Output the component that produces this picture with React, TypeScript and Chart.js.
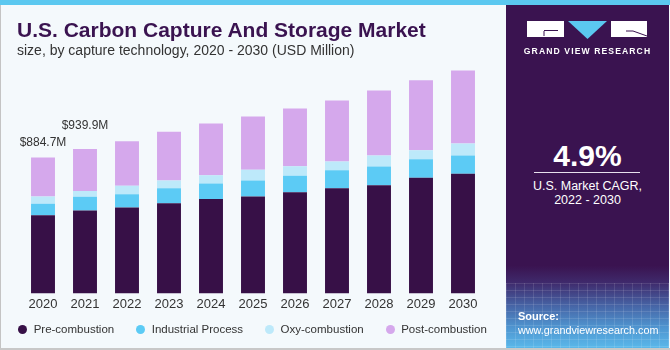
import React, { useEffect, useRef } from "react";
import { Chart, registerables } from "chart.js";

Chart.register(...registerables);

const years = ["2020", "2021", "2022", "2023", "2024", "2025", "2026", "2027", "2028", "2029", "2030"];
const preCombustion = [509, 540, 559, 587, 615, 630, 659, 685, 704, 752, 778];
const industrialProcess = [74, 89, 87, 98, 100, 104, 107, 117, 122, 121, 119];
const oxyCombustion = [48, 37, 54, 50, 54, 70, 61, 57, 72, 59, 78];
const postCombustion = [254, 274, 291, 317, 337, 348, 376, 396, 422, 456, 476];
const totalLabels = ["$884.7M", "$939.9M"];
const labelOffsets = [15, 23];

const seriesNames = ["Pre-combustion", "Industrial Process", "Oxy-combustion", "Post-combustion"];
const seriesColors = ["#371047", "#5ccbf5", "#bde9fa", "#d5a8ec"];
const seriesData = [preCombustion, industrialProcess, oxyCombustion, postCombustion];

const FONT = "'Liberation Sans', Arial, sans-serif";

const totalLabelPlugin = {
  id: "totalLabels",
  afterDatasetsDraw(chart: any) {
    const ctx = chart.ctx;
    const last = chart.getDatasetMeta(chart.data.datasets.length - 1);
    ctx.save();
    ctx.font = `12px ${FONT}`;
    ctx.fillStyle = "#333333";
    ctx.textAlign = "center";
    ctx.textBaseline = "middle";
    totalLabels.forEach((t, i) => {
      const el = last.data[i];
      ctx.fillText(t, el.x, el.y - labelOffsets[i]);
    });
    ctx.restore();
  },
};

export default function App() {
  const ref = useRef<HTMLCanvasElement | null>(null);

  useEffect(() => {
    if (!ref.current) return;
    const chart = new Chart(ref.current, {
      type: "bar",
      data: {
        labels: years,
        datasets: seriesNames.map((name, i) => ({
          label: name,
          data: seriesData[i],
          backgroundColor: seriesColors[i],
          borderWidth: 0,
          barPercentage: 0.57,
          categoryPercentage: 1,
        })),
      },
      options: {
        animation: false,
        responsive: false,
        maintainAspectRatio: false,
        layout: { padding: { top: 60, left: 22, right: 21, bottom: 35 } },
        plugins: {
          legend: { display: false },
          tooltip: { enabled: false },
          title: { display: false },
        },
        scales: {
          x: {
            stacked: true,
            grid: { display: false, drawTicks: false },
            border: { display: false },
            ticks: { color: "#333333", font: { family: FONT, size: 13 }, padding: 3 },
          },
          y: { stacked: true, display: false, min: 0, max: 1519 },
        },
      },
      plugins: [totalLabelPlugin],
    });
    return () => chart.destroy();
  }, []);

  return (
    <div
      style={{
        position: "fixed",
        left: 0,
        top: 0,
        width: 670,
        height: 350,
        background: "#f4f9fc",
        overflow: "hidden",
        fontFamily: FONT,
      }}
    >
      <canvas ref={ref} width={505} height={350} style={{ position: "absolute", left: 0, top: 0, width: 505, height: 350 }} />
      {/* borders */}
      <div style={{ position: "absolute", left: 0, top: 0, width: 670, height: 5, background: "#5bc8f0" }} />
      <div style={{ position: "absolute", left: 0, top: 5, width: 1, height: 345, background: "#c4c4c4" }} />
      <div style={{ position: "absolute", left: 0, top: 348, width: 670, height: 2, background: "#c8c8c8" }} />
      {/* title */}
      <div style={{ position: "absolute", left: 17, top: 17, fontSize: 21, fontWeight: 700, color: "#3a1350", whiteSpace: "nowrap", lineHeight: "26px" }}>
        U.S. Carbon Capture And Storage Market
      </div>
      <div style={{ position: "absolute", left: 17, top: 41, fontSize: 14, color: "#333333", whiteSpace: "nowrap", lineHeight: "18px" }}>
        size, by capture technology, 2020 - 2030 (USD Million)
      </div>
      {/* legend */}
      <div
        style={{
          position: "absolute",
          left: 0,
          top: 321,
          width: 505,
          height: 16,
          display: "flex",
          justifyContent: "center",
          alignItems: "center",
          gap: 22,
          fontSize: 11.5,
          color: "#333333",
          whiteSpace: "nowrap",
        }}
      >
        {seriesNames.map((n, i) => (
          <div key={n} style={{ display: "flex", alignItems: "center" }}>
            <span style={{ display: "inline-block", width: 9, height: 9, borderRadius: "50%", background: seriesColors[i], marginRight: 6.5 }} />
            <span>{n}</span>
          </div>
        ))}
      </div>
      {/* right panel */}
      <div
        style={{
          position: "absolute",
          left: 506,
          top: 5,
          width: 163,
          height: 343,
          background: "linear-gradient(to bottom, #3a1350 0%, #3a1350 76%, #3f2a6c 81%, #4767a8 88%, #4f95d0 94%, #5ab8ea 100%)",
          overflow: "hidden",
        }}
      >
        <div
          style={{
            position: "absolute",
            left: 0,
            top: 278,
            width: 163,
            height: 70,
            backgroundImage:
              "repeating-linear-gradient(to right, rgba(255,255,255,0.11) 0px, rgba(255,255,255,0.11) 1px, transparent 1px, transparent 9px), repeating-linear-gradient(to bottom, rgba(255,255,255,0.11) 0px, rgba(255,255,255,0.11) 1px, transparent 1px, transparent 7px)",
          }}
        />
        <svg width={163} height={60} style={{ position: "absolute", left: 0, top: 0 }}>
          <rect x={21} y={16} width={37} height={16} fill="#ffffff" />
          <polyline points="38,26 38,31" stroke="#3a1350" strokeWidth={1} fill="none" />
          <polyline points="38,25.5 52,25.5" stroke="#3a1350" strokeWidth={1} fill="none" />
          <polygon points="62,16 101,16 81.5,34" fill="#5bc8f0" />
          <rect x={105} y={16} width={36} height={16} fill="#ffffff" />
          <polyline points="120,26 127,26 141,31" stroke="#3a1350" strokeWidth={1} fill="none" />
        </svg>
        <div style={{ position: "absolute", left: 0, top: 40, width: 163, textAlign: "center", color: "#ffffff", fontSize: 8.6, fontWeight: 700, letterSpacing: 1.1, lineHeight: "12px", whiteSpace: "nowrap" }}>
          GRAND VIEW RESEARCH
        </div>
        <div style={{ position: "absolute", left: 0, top: 133, width: 163, textAlign: "center", color: "#ffffff", fontSize: 30, fontWeight: 700, lineHeight: "36px" }}>
          4.9%
        </div>
        <div style={{ position: "absolute", left: 28, top: 167, width: 106, height: 1, background: "#e8e0ee" }} />
        <div style={{ position: "absolute", left: 0, top: 174, width: 163, textAlign: "center", color: "#ffffff", fontSize: 12.5, lineHeight: "14px", whiteSpace: "nowrap" }}>
          U.S. Market CAGR,
          <br />
          2022 - 2030
        </div>
        <div style={{ position: "absolute", left: 12, top: 304, color: "#ffffff", fontSize: 11, lineHeight: "14px", whiteSpace: "nowrap" }}>
          <div style={{ fontWeight: 700 }}>Source:</div>
          <div style={{ fontSize: 10.8 }}>www.grandviewresearch.com</div>
        </div>
      </div>
    </div>
  );
}
